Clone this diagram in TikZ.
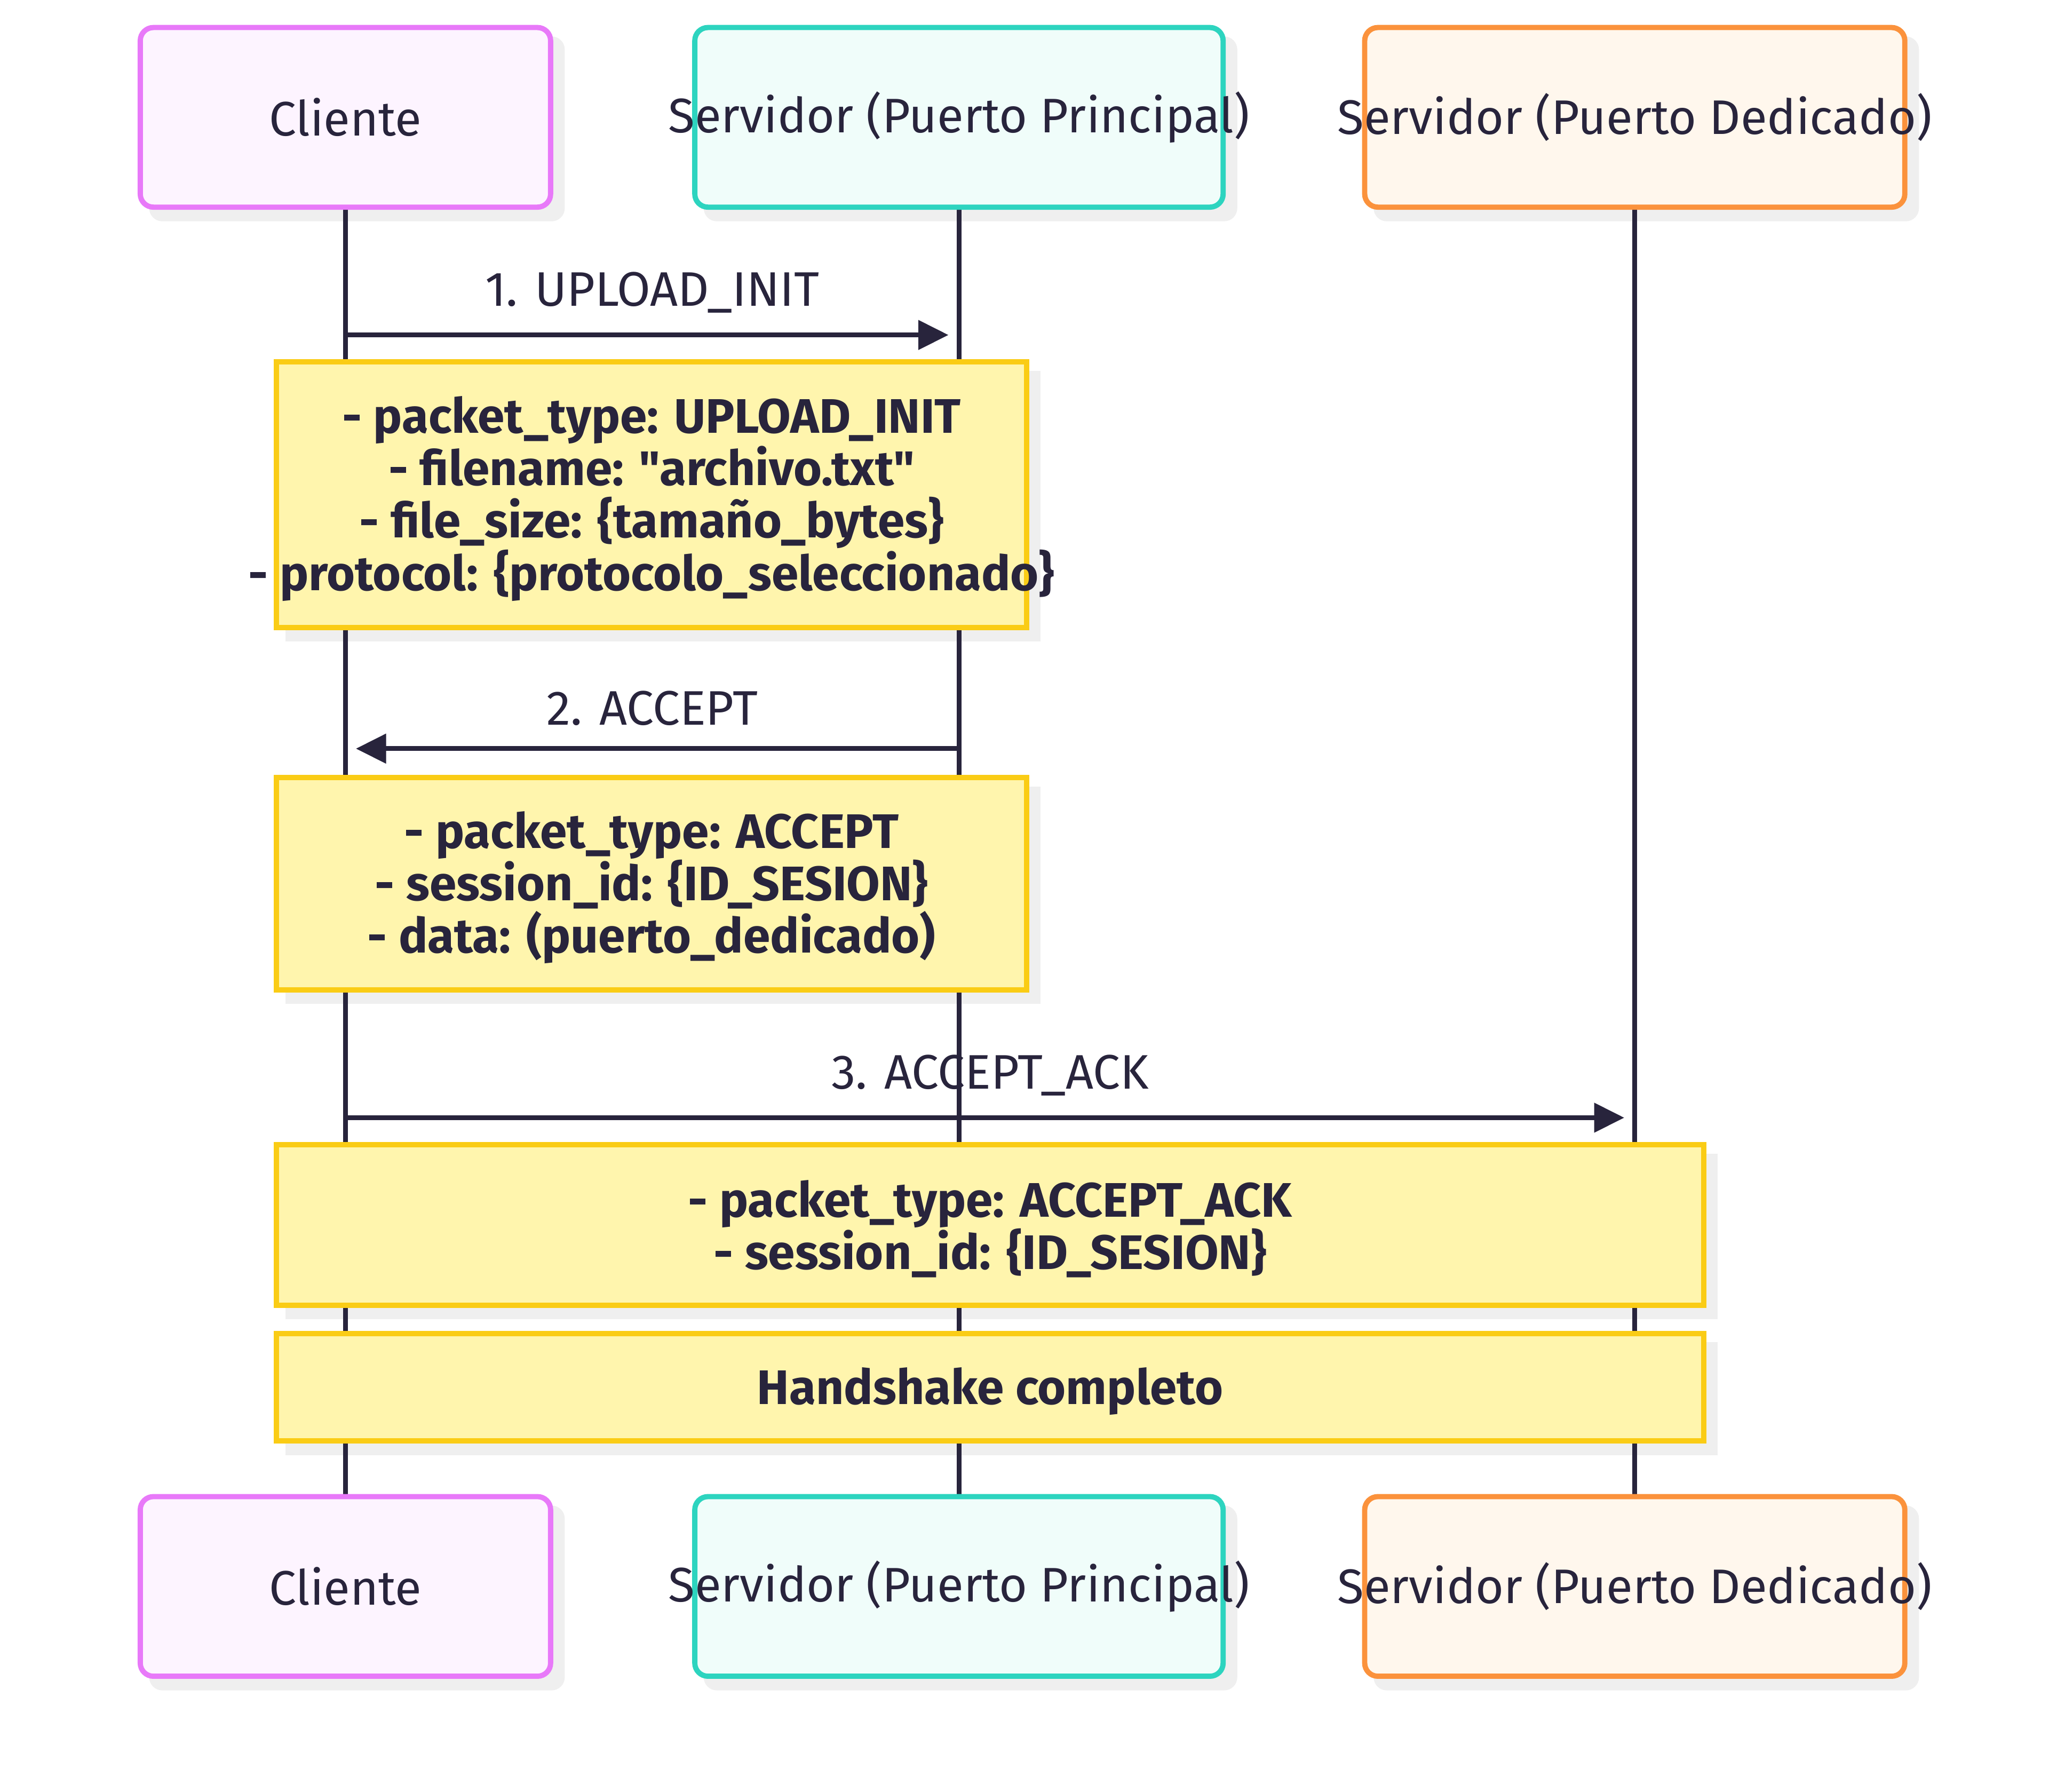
\documentclass[tikz,border=0pt]{standalone}
\usepackage{fontspec}
\setmainfont{Fira Sans}[Ligatures=TeXOff]
\usetikzlibrary{arrows.meta}

\definecolor{ink}{HTML}{28243C}
\definecolor{cliline}{HTML}{E879F9}
\definecolor{clifill}{HTML}{FDF4FF}
\definecolor{ppline}{HTML}{2DD4BF}
\definecolor{ppfill}{HTML}{F0FDFA}
\definecolor{pdline}{HTML}{FB923C}
\definecolor{pdfill}{HTML}{FFF7ED}
\definecolor{noteline}{HTML}{FACC15}
\definecolor{notefill}{HTML}{FFF5AD}
\definecolor{shadowgray}{HTML}{EFEFEF}

\pgfdeclarelayer{shadow}
\pgfdeclarelayer{life}
\pgfsetlayers{shadow,life,main}

\tikzset{
  actor/.style={draw, rounded corners=10pt, line width=4pt, minimum height=137pt, inner sep=0pt},
  cli/.style={actor, draw=cliline, fill=clifill, minimum width=313pt},
  pp/.style={actor, draw=ppline, fill=ppfill, minimum width=403pt},
  pd/.style={actor, draw=pdline, fill=pdfill, minimum width=412pt},
  note/.style={draw=noteline, fill=notefill, line width=4pt, inner sep=0pt},
  notetext/.style={font=\fontsize{37}{40}\selectfont\bfseries, align=center, yshift=-3pt},
  lifeline/.style={draw=ink, line width=3.6pt},
  msg/.style={draw=ink, line width=3.6pt, -{Triangle[length=23pt, width=22pt]}, shorten >=8pt},
}

\begin{document}
\begin{tikzpicture}[x=1pt, y=-1pt, every node/.style={font=\fontsize{37}{40}\selectfont, text=ink}]
  \useasboundingbox (0,0) rectangle (1563,1366.8);

  % participants
  \node[cli, label={center:Cliente}] (C0) at (263.5,89.5) {};
  \node[pp, label={center:Servidor (Puerto Principal)}] (P0) at (731.5,89.5) {};
  \node[pd, label={center:Servidor (Puerto Dedicado)}] (D0) at (1247,89.5) {};

  \node[cli, label={center:Cliente}] (C1) at (263.5,1210) {};
  \node[pp, label={center:Servidor (Puerto Principal)}] (P1) at (731.5,1210) {};
  \node[pd, label={center:Servidor (Puerto Dedicado)}] (D1) at (1247,1210) {};

  % notes
  \node[note, minimum width=572pt, minimum height=202.5pt,
    label={[notetext]center:{- packet\_type: UPLOAD\_INIT\\- filename: "archivo.txt"\\- file\_size: \{tamaño\_bytes\}\\- protocol: \{protocolo\_seleccionado\}}}]
    (N1) at (497,377.25) {};
  \node[note, minimum width=572pt, minimum height=162pt,
    label={[notetext]center:{- packet\_type: ACCEPT\\- session\_id: \{ID\_SESION\}\\- data: (puerto\_dedicado)}}]
    (N2) at (497,674) {};
  \node[note, minimum width=1088.5pt, minimum height=122.5pt,
    label={[notetext]center:{- packet\_type: ACCEPT\_ACK\\- session\_id: \{ID\_SESION\}}}]
    (N3) at (755.25,934.25) {};
  \node[note, minimum width=1088.5pt, minimum height=82pt,
    label={[notetext]center:{Handshake completo}}]
    (N4) at (755.25,1058) {};

  % shadows
  \begin{pgfonlayer}{shadow}
    \foreach \n in {C0,P0,D0,C1,P1,D1}
      \fill[shadowgray, rounded corners=10pt] ([shift={(8.8pt,-8.8pt)}]\n.south west) rectangle ([shift={(8.8pt,-8.8pt)}]\n.north east);
    \foreach \n in {N1,N2,N3,N4}
      \fill[shadowgray] ([shift={(8.8pt,-8.8pt)}]\n.south west) rectangle ([shift={(8.8pt,-8.8pt)}]\n.north east);
  \end{pgfonlayer}

  % lifelines
  \begin{pgfonlayer}{life}
    \draw[lifeline] (C0) -- (C1);
    \draw[lifeline] (P0) -- (P1);
    \draw[lifeline] (D0) -- (D1);
  \end{pgfonlayer}

  % messages
  \coordinate (m1) at (0,255.5);
  \coordinate (m2) at (0,571);
  \coordinate (m3) at (0,852.5);

  \draw[msg] (C0 |- m1) -- node[midway, anchor=base, yshift=22pt] {1. UPLOAD\_INIT} (P0 |- m1);
  \draw[msg] (P0 |- m2) -- node[midway, anchor=base, yshift=18pt] {2. ACCEPT} (C0 |- m2);
  \draw[msg] (C0 |- m3) -- node[midway, anchor=base, yshift=22pt] {3. ACCEPT\_ACK} (D0 |- m3);
\end{tikzpicture}
\end{document}
